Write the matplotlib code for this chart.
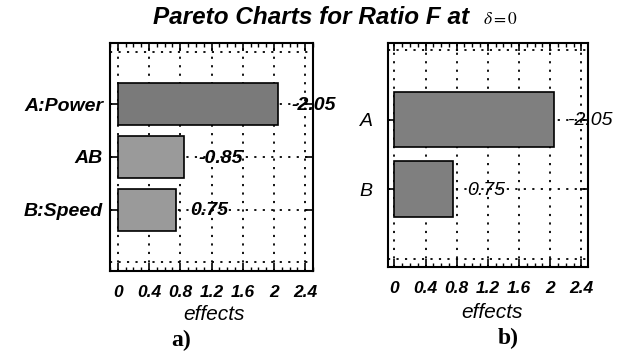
import numpy as np
import matplotlib
matplotlib.use("Agg")
import matplotlib.pyplot as plt
from matplotlib.ticker import MultipleLocator

# data
labels_a = ["A:Power", "AB", "B:Speed"]
effects_a = [-2.05, -0.85, 0.75]
colors_a = ["#7a7a7a", "#9a9a9a", "#9a9a9a"]

labels_b = ["A", "B"]
effects_b = [-2.05, 0.75]
colors_b = ["#7f7f7f", "#7f7f7f"]

xticks = [0, 0.4, 0.8, 1.2, 1.6, 2, 2.4]
xticklabels = ["0", "0.4", "0.8", "1.2", "1.6", "2", "2.4"]

plt.rcParams["font.family"] = ["Liberation Sans", "DejaVu Sans"]

fig = plt.figure(figsize=(6.18, 3.52), dpi=100)
ax1 = fig.add_axes([0.178, 0.230, 0.3285, 0.648])
ax2 = fig.add_axes([0.628, 0.2415, 0.324, 0.636])


def pareto(ax, labels, effects, colors, xlim, ylim, weight, ypad):
    pos = np.arange(len(labels))
    ax.barh(pos, np.abs(effects), height=0.8, color=colors,
            edgecolor="black", linewidth=1.2, zorder=3)
    ax.set_xlim(*xlim)
    ax.set_ylim(*ylim)
    ax.set_xticks(xticks)
    ax.set_xticklabels(xticklabels, fontsize=12.5, fontweight="bold",
                       fontstyle="italic")
    ax.xaxis.set_minor_locator(MultipleLocator(0.1))
    ax.set_yticks(pos)
    ax.set_yticklabels(labels, fontsize=14, fontweight=weight,
                       fontstyle="italic")
    ax.tick_params(axis="x", which="major", direction="in", length=6,
                   width=1.2, top=True, pad=10)
    ax.tick_params(axis="x", which="minor", direction="in", length=3,
                   width=1, top=True)
    ax.tick_params(axis="y", direction="in", length=6, width=1.2,
                   right=True, pad=ypad)
    # dotted grid
    for x in xticks:
        ax.axvline(x, color="black", linestyle=(0, (1.2, 3.5)),
                   linewidth=1.3, zorder=1)
    for y in range(int(np.ceil(min(ylim))), int(np.floor(max(ylim))) + 1):
        ax.axhline(y, color="black", linestyle=(0, (1.2, 3.5)),
                   linewidth=1.3, zorder=1)
    for p, v in zip(pos, effects):
        ax.annotate(f"{v:.2f}", xy=(abs(v), p), xytext=(10, -1),
                    textcoords="offset points", ha="left", va="center",
                    fontsize=14, fontweight=weight, fontstyle="italic",
                    zorder=5, annotation_clip=False)
    for s in ax.spines.values():
        s.set_linewidth(1.5)


pareto(ax1, labels_a, effects_a, colors_a, (-0.1, 2.5), (3.17, -1.17), "bold", 5)
pareto(ax2, labels_b, effects_b, colors_b, (-0.08, 2.49), (2.12, -1.1), "normal", 11)

fig.text(153 / 618, 1 - 18 / 352, "Pareto Charts for Ratio F at",
         fontsize=17.5, fontweight="bold", fontstyle="italic",
         ha="left", va="center")
fig.text(483 / 618, 1 - 19 / 352, r"$\delta = 0$", math_fontfamily="stix",
         fontsize=12.5, ha="left", va="center")

fig.text(214 / 618, 1 - 314 / 352, "effects", fontsize=15,
         fontstyle="italic", ha="center", va="center")
fig.text(492 / 618, 1 - 312 / 352, "effects", fontsize=15,
         fontstyle="italic", ha="center", va="center")
fig.text(181 / 618, 1 - 340 / 352, "a)", fontsize=17, fontweight="bold",
         family=["Liberation Serif", "DejaVu Serif"], ha="center", va="center")
fig.text(508 / 618, 1 - 338 / 352, "b)", fontsize=17, fontweight="bold",
         family=["Liberation Serif", "DejaVu Serif"], ha="center", va="center")

fig.savefig("out.png", dpi=100)
